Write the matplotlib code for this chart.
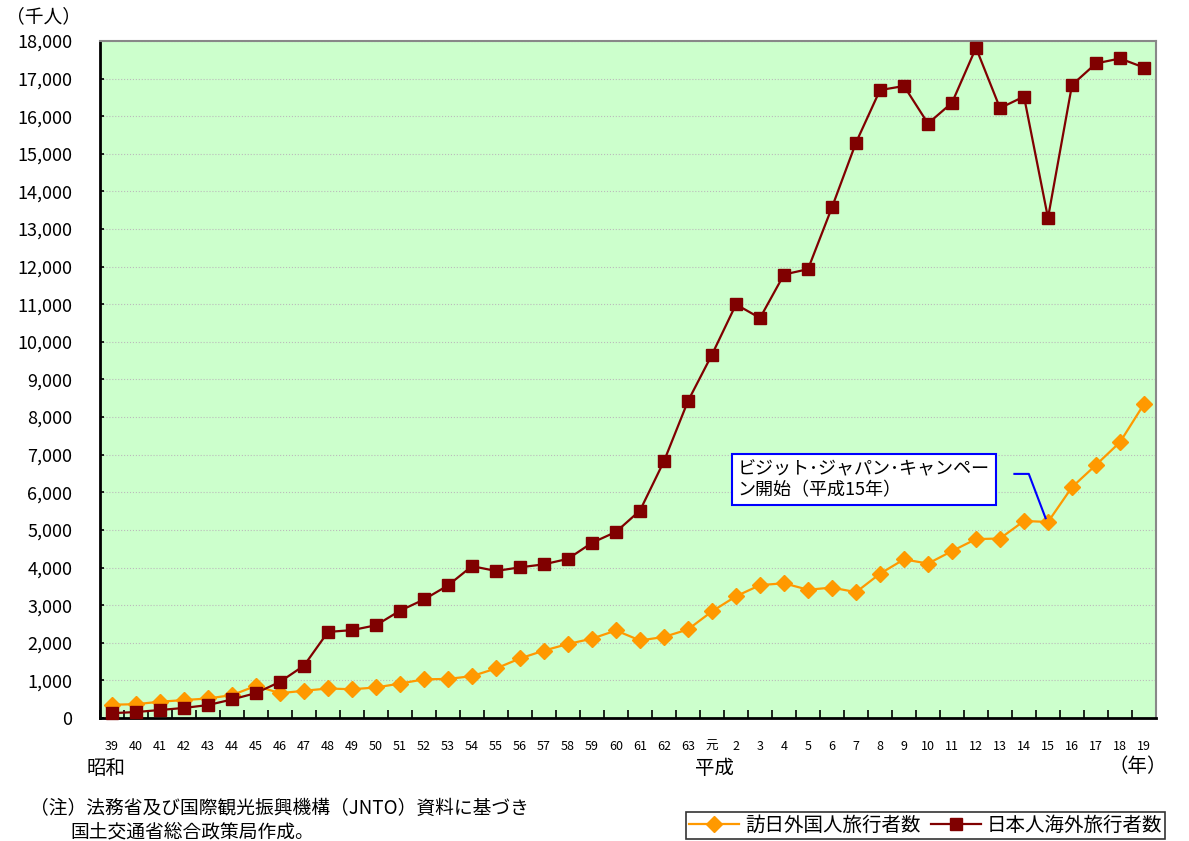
import matplotlib
matplotlib.use('Agg')
import matplotlib.pyplot as plt
import numpy as np

plt.rcParams['font.family'] = ['Noto Sans CJK JP', 'DejaVu Sans']

# 年（昭和39年〜平成19年）
years = ['39', '40', '41', '42', '43', '44', '45', '46', '47', '48', '49', '50',
         '51', '52', '53', '54', '55', '56', '57', '58', '59', '60', '61', '62',
         '63', '元', '2', '3', '4', '5', '6', '7', '8', '9', '10', '11', '12',
         '13', '14', '15', '16', '17', '18', '19']

# 訪日外国人旅行者数（千人）
inbound = [353, 367, 433, 477, 519, 609, 854, 660, 724, 785, 764, 812,
           915, 1028, 1039, 1113, 1317, 1583, 1793, 1968, 2110, 2327, 2062, 2155,
           2355, 2835, 3236, 3533, 3582, 3410, 3468, 3345, 3837, 4218, 4106, 4438,
           4757, 4772, 5239, 5212, 6138, 6728, 7334, 8347]

# 日本人海外旅行者数（千人）
outbound = [128, 159, 212, 268, 344, 493, 663, 961, 1392, 2289, 2336, 2466,
            2853, 3151, 3525, 4038, 3909, 4006, 4086, 4232, 4659, 4948, 5516, 6829,
            8427, 9663, 10997, 10634, 11791, 11934, 13579, 15298, 16695, 16803, 15806, 16358,
            17819, 16216, 16523, 13296, 16831, 17404, 17535, 17295]

yticks = np.arange(0, 18001, 1000)

fig = plt.figure(figsize=(11.89, 8.41), dpi=100)
ax = fig.add_axes([100/1189, 1-718/841, 1056/1189, 677/841])
ax.set_facecolor('#CCFFCC')

x = np.arange(len(years))
l1, = ax.plot(x, inbound, color='#FF9900', lw=1.6, marker='D', ms=8,
              label='訪日外国人旅行者数', zorder=3)
l2, = ax.plot(x, outbound, color='#800000', lw=1.6, marker='s', ms=9,
              label='日本人海外旅行者数', zorder=4, clip_on=False)

ax.set_xlim(-0.5, len(years) - 0.5)
ax.set_ylim(0, 18000)
ax.set_yticks(yticks)
ax.set_yticklabels([f'{v:,}' for v in yticks], fontsize=13)
ax.yaxis.grid(True, color='#BBBBBB', ls=':', lw=0.8)
ax.set_axisbelow(True)

ax.set_xticks(x)
ax.set_xticklabels(years, fontsize=9)
ax.set_xticks(np.arange(-0.5, len(years), 1), minor=True)
ax.tick_params(axis='x', which='major', length=0, pad=16)
ax.tick_params(axis='x', which='minor', direction='in', length=6, width=1.2)
ax.tick_params(axis='y', direction='in', length=3, width=1.2, pad=20)

for s in ['left', 'bottom']:
    ax.spines[s].set_color('black')
    ax.spines[s].set_linewidth(2)
for s in ['top', 'right']:
    ax.spines[s].set_color('#888888')
    ax.spines[s].set_linewidth(1.5)

fig.text(6/1189, 1-17/841, '（千人）', fontsize=13.5, va='center', ha='left')
fig.text(87/1189, 1-769/841, '昭和', fontsize=14, va='center', ha='left')
fig.text(695/1189, 1-769/841, '平成', fontsize=14, va='center', ha='left')
fig.text(1108/1189, 1-767/841, '（年）', fontsize=14, va='center', ha='left')

# annotation
idx = years.index('15')
ax.text(0.604, 0.381, 'ビジット･ジャパン･キャンペー\nン開始（平成15年）',
        transform=ax.transAxes, fontsize=13, va='top', ha='left', linespacing=1.2,
        bbox=dict(boxstyle='square,pad=0.35', fc='white', ec='#0000FF', lw=1.5),
        zorder=5)
ax.plot([37.6, 38.2, idx - 0.1], [6490, 6490, inbound[idx] + 100],
        color='#0000FF', lw=1.5, zorder=5)

fig.text(30/1189, 1-808/841, '（注）法務省及び国際観光振興機構（JNTO）資料に基づき',
         fontsize=13.5, va='center', ha='left')
fig.text(70/1189, 1-832/841, '国土交通省総合政策局作成。',
         fontsize=13.5, va='center', ha='left')

leg = fig.legend(handles=[l1, l2], loc='upper left',
                 bbox_to_anchor=(686/1189, 1-812/841), ncol=2, fontsize=14,
                 frameon=True, fancybox=False, edgecolor='black',
                 handlelength=2.6, columnspacing=0.5, handletextpad=0.3,
                 borderpad=0.15, borderaxespad=0)
leg.get_frame().set_linewidth(1.2)

fig.savefig('out.png', dpi=100)
